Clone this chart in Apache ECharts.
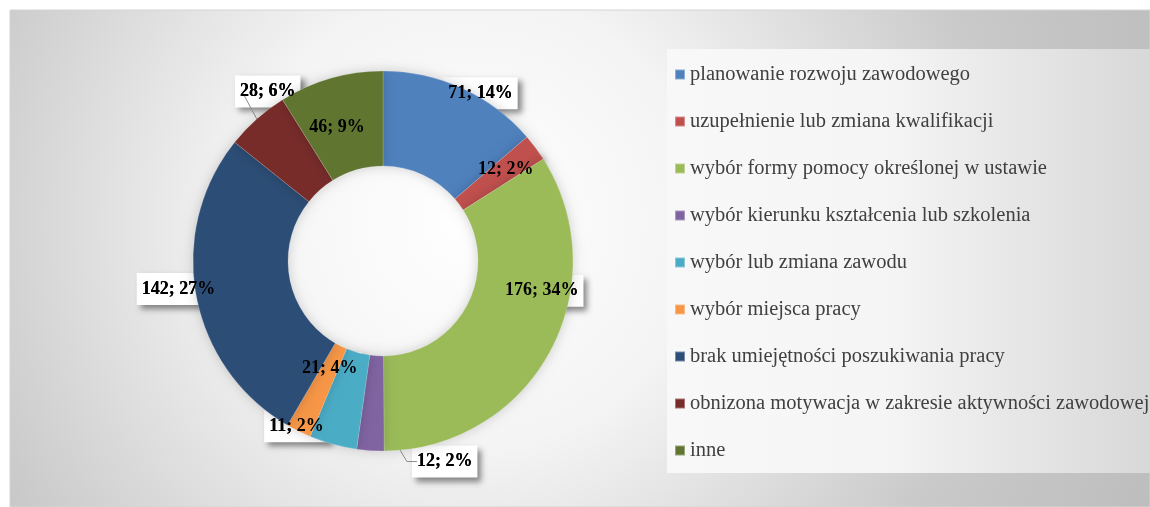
<!DOCTYPE html>
<html>
<head>
<meta charset="utf-8">
<script src="https://cdn.jsdelivr.net/npm/echarts@6/dist/echarts.min.js"></script>
<style>
  html, body { margin: 0; padding: 0; background: #fff; }
  #chart { width: 1150px; height: 507px; }
</style>
</head>
<body>
<div id="chart"></div>
<script>
const categories = [
  'planowanie rozwoju zawodowego',
  'uzupełnienie lub zmiana kwalifikacji',
  'wybór formy pomocy określonej w ustawie',
  'wybór kierunku kształcenia lub szkolenia',
  'wybór lub zmiana zawodu',
  'wybór miejsca pracy',
  'brak umiejętności poszukiwania pracy',
  'obnizona motywacja w zakresie aktywności zawodowej',
  'inne'
]
const values = [71, 12, 176, 12, 21, 11, 142, 28, 46]
const colors = ['#4f81bd', '#c0504d', '#9bbb59', '#8064a2', '#4bacc6', '#f79646', '#2c4d75', '#772c2a', '#5f7530']
// which labels sit inside the ring, which ones get a leader line
const insideLabel = [false, true, true, false, true, false, false, false, true]
const withLine = [false, false, false, true, false, false, false, true, false]
// small nudges of the data labels (Excel "best fit" placement)
const labelShift = [[-24, 5], [6, -5], [31, -40], [123, -3], [-15, -33], [35, -5], [29, -7], [68, -17], [-6, 6]]
// where the leader line starts, as a share of the outer radius
const lineDepth = [1, 1, 1, 0.76, 1, 1, 1, 1, 1]

const center = [383, 261]
const radius = [95, 190]

const labelFont = {
  fontFamily: 'Liberation Serif',
  fontWeight: 'bold',
  fontSize: 18,
  padding: [7, 5]
}

const buildData = () => categories.map((name, i) => ({
  name: name,
  value: values[i],
  label: { position: insideLabel[i] ? 'inside' : 'outside' },
  labelLine: {
    show: withLine[i],
    length: withLine[i] ? 14 : 0,
    length2: withLine[i] ? 10 : 0
  }
}))

// middle angle of a slice, clockwise from 12 o'clock
const midAngle = (i) => {
  let total = 0, before = 0
  values.forEach((v, j) => {
    total += v
    if (j < i) before += v
  })
  return (before + values[i] / 2) / total * Math.PI * 2
}

const shiftLabel = (params) => {
  const i = params.dataIndex
  const dx = labelShift[i][0]
  const dy = labelShift[i][1]
  const out = { dx: dx, dy: dy }
  if (withLine[i]) {
    const a = midAngle(i)
    const rr = radius[1] * lineDepth[i]
    const start = [center[0] + Math.sin(a) * rr, center[1] - Math.cos(a) * rr]
    const r = params.labelRect
    const x = r.x + dx
    const cy = r.y + dy + r.height / 2
    out.labelLinePoints = start[0] < x - 10
      ? [start, [x - 10, cy], [x, cy]]
      : [start, [x + 2, cy]]
  }
  return out
}

const pieBase = {
  type: 'pie',
  center: center,
  radius: radius,
  startAngle: 90,
  clockwise: true,
  avoidLabelOverlap: false,
  percentPrecision: 0,
  animation: false,
  labelLayout: shiftLabel
}

let myChart = echarts.init(document.getElementById('chart'))
myChart.setOption({
  color: colors,
  graphic: [
    {
      type: 'rect',
      z: -10,
      shape: { x: 10, y: 10, width: 1140, height: 497 },
      style: {
        fill: new echarts.graphic.RadialGradient(470, 220, 760, [
          { offset: 0, color: '#ffffff' },
          { offset: 0.3, color: '#f4f4f4' },
          { offset: 0.7, color: '#c9c9c9' },
          { offset: 1, color: '#bcbcbc' }
        ], true),
        stroke: '#d4d4d4',
        lineWidth: 1
      }
    },
    {
      type: 'rect',
      z: -9,
      shape: { x: 667, y: 49, width: 483, height: 424 },
      style: {
        fill: new echarts.graphic.LinearGradient(0, 0, 1, 0, [
          { offset: 0, color: '#f8f8f8' },
          { offset: 0.45, color: '#f5f5f5' },
          { offset: 1, color: '#d8d8d8' }
        ])
      }
    }
  ],
  legend: {
    orient: 'vertical',
    left: 674,
    top: 64,
    padding: 0,
    itemWidth: 10,
    itemHeight: 10,
    itemGap: 26,
    icon: 'rect',
    selectedMode: false,
    data: categories,
    textStyle: {
      fontFamily: 'Liberation Serif',
      fontSize: 20.5,
      lineHeight: 20,
      color: '#404040'
    }
  },
  series: [
    Object.assign({}, pieBase, {
      name: 'slices',
      z: 3,
      data: buildData(),
      itemStyle: {
        borderColor: 'rgba(255,255,255,0.35)',
        borderWidth: 0.5,
        shadowBlur: 12,
        shadowColor: 'rgba(0,0,0,0.18)'
      },
      label: Object.assign({ formatter: '{c}; {d}%', color: '#000' }, labelFont),
      labelLine: { lineStyle: { color: '#8c8c8c', width: 1 }, smooth: false },
      emphasis: { disabled: true }
    }),
    // white label boxes drawn underneath the ring, like the original
    Object.assign({}, pieBase, {
      name: 'boxes',
      z: 1,
      silent: true,
      legendHoverLink: false,
      data: buildData(),
      itemStyle: { color: 'rgba(0,0,0,0)' },
      label: Object.assign({
        formatter: '{c}; {d}%',
        color: '#000',
        backgroundColor: '#ffffff',
        shadowBlur: 6,
        shadowOffsetX: 4,
        shadowOffsetY: 4,
        shadowColor: 'rgba(0,0,0,0.45)'
      }, labelFont),
      labelLine: { show: false },
      emphasis: { disabled: true }
    })
  ]
})
</script>
</body>
</html>
